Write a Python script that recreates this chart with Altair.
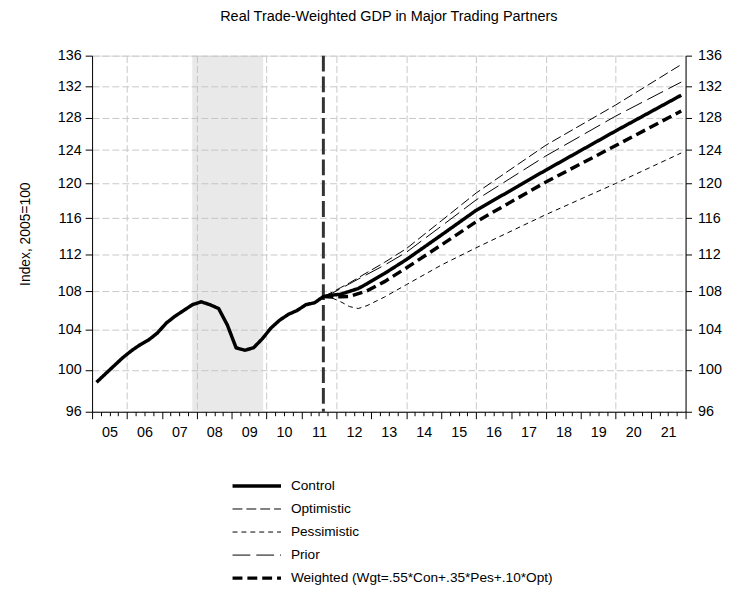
import altair as alt
import pandas as pd

FONT = "Liberation Sans, Arial, sans-serif"

title_text = "Real Trade-Weighted GDP in Major Trading Partners"
y_title = "Index, 2005=100"

# History (mid-quarter positions, 2005Q1 .. 2011Q3)
hist_t = [2005.125, 2005.375, 2005.625, 2005.875, 2006.125, 2006.375, 2006.625, 2006.875,
          2007.125, 2007.375, 2007.625, 2007.875, 2008.125, 2008.375, 2008.625, 2008.875,
          2009.125, 2009.375, 2009.625, 2009.875, 2010.125, 2010.375, 2010.625, 2010.875,
          2011.125, 2011.375, 2011.625]
hist_v = [98.8, 99.6, 100.4, 101.2, 101.9, 102.5, 103.0, 103.7,
          104.7, 105.4, 106.0, 106.6, 106.9, 106.6, 106.2, 104.5,
          102.2, 101.95, 102.2, 103.1, 104.2, 105.0, 105.6, 106.0,
          106.6, 106.8, 107.45]

# Forecast scenarios
fc_t = [2011.625, 2011.875, 2012.125, 2012.375, 2012.625, 2012.875, 2013.375,
        2014.0, 2015.0, 2016.0, 2018.0, 2020.0, 2021.875]
control_fc = [107.45, 107.6, 107.7, 108.0, 108.3, 108.8, 109.9,
              111.4, 114.1, 116.9, 121.6, 126.35, 130.84]
optimistic_fc = [107.45, 107.9, 108.4, 108.9, 109.45, 110.0, 111.1,
                 112.6, 115.7, 118.9, 124.6, 129.6, 134.82]
pessimistic_fc = [107.45, 107.3, 106.9, 106.4, 106.2, 106.5, 107.4,
                  108.7, 110.8, 112.7, 116.42, 120.02, 123.65]
prior_fc = [107.45, 107.8, 108.3, 108.8, 109.3, 109.8, 110.8,
            112.2, 115.1, 118.1, 123.3, 128.2, 132.53]
weighted_fc = [107.45, 107.4, 107.43, 107.46, 107.75, 108.05, 109.03,
               110.5, 113.0, 115.6, 120.19, 124.55, 128.83]

series_names = ["Control", "Optimistic", "Pessimistic", "Prior",
                "Weighted (Wgt=.55*Con+.35*Pes+.10*Opt)"]
series_dash = [[1, 0], [10, 4], [5, 4], [18, 6], [10, 5]]
series_width = [3.5, 1, 1, 1, 3.5]

recession_start = [2007.87]
recession_end = [2009.9]
forecast_start = [2011.625]

y_ticks = [96, 100, 104, 108, 112, 116, 120, 124, 128, 132, 136]
x_domain = [2005, 2022]
quarter_ticks = [x_domain[0] + i * 0.25 for i in range(int((x_domain[1] - x_domain[0]) * 4) + 1)]

rows = []
for t, v in zip(hist_t, hist_v):
    rows.append({"t": t, "v": v, "s": series_names[0]})
for name, vals in zip(series_names, [control_fc, optimistic_fc, pessimistic_fc, prior_fc, weighted_fc]):
    for t, v in zip(fc_t, vals):
        if name == series_names[0] and t == hist_t[-1]:
            continue
        rows.append({"t": t, "v": v, "s": name})
df = pd.DataFrame(rows)

rec_df = pd.DataFrame({"start": recession_start, "end": recession_end})
fc_df = pd.DataFrame({"t": forecast_start})

GRID = "#c8c8c8"
TICK_FS = 14.5

x_scale = alt.Scale(domain=x_domain, nice=False, zero=False)
x_axis = alt.Axis(
    values=quarter_ticks, title=None, grid=True, gridColor=GRID, gridDash=[7, 3], gridWidth=1,
    gridOpacity={"condition": {"test": "datum.value % 2 === 0 && datum.value > 2005 && datum.value < 2022", "value": 1}, "value": 0},
    tickSize={"condition": {"test": "datum.value % 1 === 0", "value": 7}, "value": 4},
    tickColor="black", domainColor="black",
    labelExpr="datum.value % 1 === 0.5 ? format(floor(datum.value) % 100, '02d') : ''",
    labelFont=FONT, labelFontSize=TICK_FS, labelColor="black", labelPadding=10,
    labelOverlap=False, labelFlush=False,
)
y_scale = alt.Scale(type="log", domain=[y_ticks[0], y_ticks[-1]], nice=False)
y_axis_left = alt.Axis(
    values=y_ticks, orient="left", title=y_title, grid=True, gridColor=GRID, gridDash=[7, 3], gridWidth=1,
    tickSize=7, tickColor="black", domainColor="black", labelPadding=4,
    labelFont=FONT, labelFontSize=TICK_FS, labelColor="black",
    titleFont=FONT, titleFontSize=14, titleFontWeight="normal", titleColor="black",
    titleAngle=270, titleX=-67, titleY=180, titleAlign="center", titleBaseline="middle",
)
y_axis_right = alt.Axis(
    values=y_ticks, orient="right", title=None, grid=False,
    tickSize=6, tickColor="black", domainColor="black", labelPadding=6,
    labelFont=FONT, labelFontSize=TICK_FS, labelColor="black",
)

legend = alt.Legend(
    orient="none", legendX=140, legendY=425, direction="vertical", title=None,
    symbolType="stroke", symbolSize=2400, clipHeight=20, rowPadding=3.3,
    labelFont=FONT, labelFontSize=13.8, labelColor="black", labelOffset=8, labelLimit=500,
    symbolStrokeColor="black", padding=0,
)

rect = alt.Chart(rec_df).mark_rect(color="#c0c0c0", opacity=0.35).encode(
    x=alt.X("start:Q", scale=x_scale, axis=x_axis),
    x2="end:Q",
)

rule = alt.Chart(fc_df).mark_rule(color="#333333", strokeWidth=3, strokeDash=[16, 5]).encode(
    x=alt.X("t:Q", scale=x_scale, axis=x_axis),
)

lines = alt.Chart(df).mark_line(color="black").encode(
    x=alt.X("t:Q", scale=x_scale, axis=x_axis),
    y=alt.Y("v:Q", scale=y_scale, axis=y_axis_left),
    strokeDash=alt.StrokeDash("s:N", scale=alt.Scale(type="ordinal", domain=series_names, range=series_dash),
                              sort=series_names, legend=legend),
    strokeWidth=alt.StrokeWidth("s:N", scale=alt.Scale(type="ordinal", domain=series_names, range=series_width),
                                sort=series_names, legend=legend),
    detail="s:N",
)

right = alt.Chart(df).mark_point(opacity=0).encode(
    x=alt.X("t:Q", scale=x_scale, axis=x_axis),
    y=alt.Y("v:Q", scale=y_scale, axis=y_axis_right),
)

chart = alt.layer(rect, rule, lines, right).resolve_scale(y="shared").resolve_axis(y="independent").properties(
    width=600, height=360,
    autosize=alt.AutoSizeParams(type="none"),
    padding={"left": 85, "top": 45, "right": 53, "bottom": 175},
    title=alt.TitleParams(title_text, font=FONT, fontSize=14.6, fontWeight="normal", color="black",
                          anchor="middle", offset=24),
).configure_view(stroke="#333333", strokeWidth=1.5).configure(background="white")

chart.save("out.html", embed_options={"renderer": "svg", "actions": False})
